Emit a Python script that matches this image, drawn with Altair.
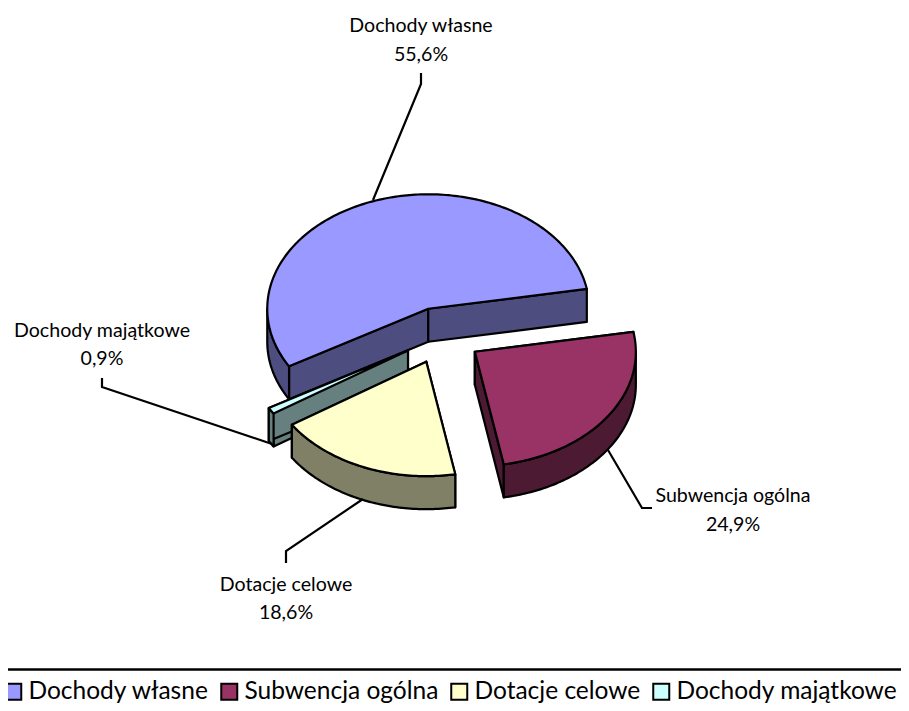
import math
import altair as alt
import pandas as pd

names = ["Dochody własne", "Subwencja ogólna", "Dotacje celowe", "Dochody majątkowe"]
shares = [55.6, 24.9, 18.6, 0.9]
top_colors = ["#9999FF", "#993366", "#FFFFCC", "#CCFFFF"]
side_colors = ["#4D4D80", "#4D1A33", "#808066", "#668080"]
share_labels = ["55,6%", "24,9%", "18,6%", "0,9%"]

# layout (page pixels of the reference)
PAGE = 8
CX, CY = 442.0, 335.5
RX, RY = 161.0, 114.5
DEPTH = 33.0
EXPLODE = 40.0
FIRST_ANGLE = 10.0
DRAW_ORDER = [0, 3, 1, 2]

label_x = [421, 733, 286, 102]
label_y = [[26, 55], [496, 525], [585, 613], [331, 359]]
leaders = [
    [[421, 73], [421, 84], [373, 200]],
    [[608, 450], [642, 508], [652, 508]],
    [[363, 499], [286, 551], [286, 563]],
    [[102, 378], [102, 387], [272, 444]],
]


def px(p):
    return [p[0] - PAGE, p[1] - PAGE]


def feature(points, name, closed=True):
    pts = [px(p) for p in points]
    if closed:
        pts = pts + [pts[0]]
        geom = {"type": "Polygon", "coordinates": [pts]}
    else:
        geom = {"type": "LineString", "coordinates": pts}
    return {"type": "Feature", "geometry": geom, "properties": {"name": name}}


def arc(ax, ay, a0, a1, dy=0.0):
    n = max(2, int(abs(a0 - a1)) + 2)
    return [
        (ax + RX * math.cos(math.radians(a0 + (a1 - a0) * i / (n - 1))),
         ay - RY * math.sin(math.radians(a0 + (a1 - a0) * i / (n - 1))) + dy)
        for i in range(n)
    ]


proj = dict(type="identity", scale=1, translate=[0, 0])
color_scale = alt.Scale(domain=names, range=top_colors)
legend = alt.Legend(
    orient="none", legendX=-7, legendY=671, columns=4, title=None,
    symbolType="square", symbolSize=256, symbolStrokeColor="black",
    symbolStrokeWidth=2, symbolOpacity=1,
    labelFont="Lato", labelFontSize=24.5, labelColor="black", labelOffset=3,
    labelLimit=300, columnPadding=8, padding=0, symbolOffset=0,
)

spans = []
cur = FIRST_ANGLE + shares[0] * 3.6
for s in shares:
    spans.append((cur, cur - s * 3.6))
    cur -= s * 3.6

layers = []
for idx in DRAW_ORDER:
    a0, a1 = spans[idx]
    mid = math.radians((a0 + a1) / 2)
    ax = CX + EXPLODE * math.cos(mid)
    ay = CY - EXPLODE * RY / RX * math.sin(mid)
    e0 = arc(ax, ay, a0, a0)[0]
    e1 = arc(ax, ay, a1, a1)[0]
    side = []
    for e in (e0, e1):
        side.append(feature([(ax, ay), e, (e[0], e[1] + DEPTH), (ax, ay + DEPTH)], names[idx]))
    lo, hi = a1, a0
    ranges = [(max(lo, -180), min(hi, 0))]
    if hi > 180:
        ranges.append((180, min(hi, 360)))
    for r0, r1 in ranges:
        if r1 > r0:
            upper = arc(ax, ay, r0, r1)
            side.append(feature(upper + arc(ax, ay, r1, r0, DEPTH), names[idx]))
    layers.append(
        alt.Chart(alt.Data(values=side)).mark_geoshape(
            fill=side_colors[idx], stroke="black", strokeWidth=2.2, strokeJoin="round"
        ).project(**proj)
    )
    top = feature([(ax, ay)] + arc(ax, ay, a0, a1), names[idx])
    layers.append(
        alt.Chart(alt.Data(values=[top])).mark_geoshape(
            stroke="black", strokeWidth=2.2, strokeJoin="round"
        ).encode(
            fill=alt.Fill("properties.name:N", scale=color_scale, legend=legend)
        ).project(**proj)
    )

lines = [feature(l, n, closed=False) for l, n in zip(leaders, names)]
layers.append(
    alt.Chart(alt.Data(values=lines)).mark_geoshape(
        filled=False, stroke="black", strokeWidth=2.2
    ).project(**proj)
)

rows = []
for n, s, x, ys in zip(names, share_labels, label_x, label_y):
    rows.append({"t": n, "x": x - PAGE, "y": ys[0] - PAGE})
    rows.append({"t": s, "x": x - PAGE, "y": ys[1] - PAGE})
labels = alt.Chart(pd.DataFrame(rows)).mark_text(
    font="Lato", fontSize=19.6, color="black", align="center", baseline="middle"
).encode(x=alt.X("x:Q", scale=None), y=alt.Y("y:Q", scale=None), text="t:N")
layers.append(labels)

rule = alt.Chart(pd.DataFrame({"a": [0]})).mark_rule(color="black", strokeWidth=2.5).encode(
    x=alt.value(-8), x2=alt.value(901), y=alt.value(661.5)
)
layers.append(rule)

chart = alt.layer(*layers).properties(
    width=893, height=697, padding=0, autosize=alt.AutoSizeParams(type="none"),
    background="white",
).configure_view(stroke=None)

chart.save("out.html", embed_options={"renderer": "svg", "actions": False})
